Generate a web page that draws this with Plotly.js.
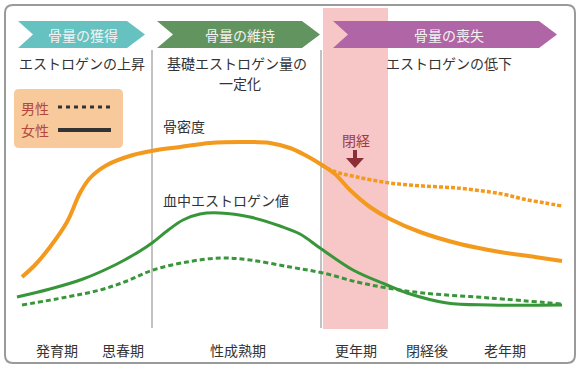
<!DOCTYPE html>
<html>
<head>
<meta charset="utf-8">
<script src="https://cdn.plot.ly/plotly-3.0.1.min.js"></script>
<style>
  html, body { margin: 0; padding: 0; background: #fff; }
  #chart { width: 580px; height: 370px; }
</style>
</head>
<body>
<div id="chart"></div>
<script>
// ---- data (conceptual curves; x = life stage position, y = level, screen-like scale) ----
const womenBoneX = [22, 35, 50, 67, 80, 90, 107, 133, 157, 180, 210, 240, 270, 290, 305, 322, 335, 350, 370, 390, 420, 460, 500, 535, 562];
const womenBoneY = [277, 265, 247, 222, 193, 178, 165, 155, 150, 147, 143, 142, 143, 148, 155, 165, 174, 190, 207, 219, 232, 244, 252, 257, 261];
const menBoneX = [322, 333, 357, 390, 423, 457, 490, 507, 523, 545, 562];
const menBoneY = [165, 171, 177, 183, 186, 188, 192, 195, 199, 203, 206];
const womenEstX = [17, 50, 83, 117, 140, 152, 167, 183, 200, 220, 250, 280, 300, 320, 353, 387, 407, 447, 490, 562];
const womenEstY = [297, 289, 279, 264, 251, 243, 231, 220, 214, 213, 217, 226, 234, 248, 270, 285, 293, 303, 305, 305];
const menEstX = [22, 67, 100, 127, 153, 187, 220, 250, 290, 323, 357, 387, 423, 490, 562];
const menEstY = [305, 297, 290, 281, 270, 262, 258, 260, 267, 273, 282, 288, 293, 298, 304];

const phaseLabels = ['骨量の獲得', '骨量の維持', '骨量の喪失'];
const phaseNotes = ['エストロゲンの上昇', '基礎エストロゲン量の', 'エストロゲンの低下'];
const phaseNoteExtra = '一定化';
const stageLabels = ['発育期', '思春期', '性成熟期', '更年期', '閉経後', '老年期'];
const legendLabels = ['男性', '女性'];
const curveLabels = ['骨密度', '血中エストロゲン値'];
const menopauseLabel = '閉経';

// ---- styles ----
const ORANGE = '#F39A1E';
const GREEN = '#38963A';
const FONT = '"Noto Sans CJK JP", "Noto Sans", sans-serif';
const TXT = '#333333';
const FS = 14;

const traces = [
  { x: womenBoneX, y: womenBoneY, mode: 'lines', line: { color: ORANGE, width: 4, shape: 'spline', smoothing: 1 } },
  { x: menBoneX, y: menBoneY, mode: 'lines', line: { color: ORANGE, width: 3.5, shape: 'spline', smoothing: 1, dash: '4px,2px' } },
  { x: womenEstX, y: womenEstY, mode: 'lines', line: { color: GREEN, width: 3, shape: 'spline', smoothing: 1 } },
  { x: menEstX, y: menEstY, mode: 'lines', line: { color: GREEN, width: 3, shape: 'spline', smoothing: 1, dash: '5px,3px' } }
].map(t => Object.assign(t, { hoverinfo: 'skip', showlegend: false }));

const shapes = [
  // outer rounded frame
  { type: 'path', path: 'M13,5 L567,5 Q575,5 575,13 L575,355 Q575,363 567,363 L13,363 Q5,363 5,355 L5,13 Q5,5 13,5 Z',
    line: { color: '#9a9a9a', width: 2 }, fillcolor: 'rgba(0,0,0,0)', layer: 'below' },
  // menopause band
  { type: 'rect', x0: 323, x1: 388, y0: 8, y1: 329, fillcolor: '#F7C6C7', line: { width: 0 }, layer: 'below' },
  // separators
  { type: 'line', x0: 152, x1: 152, y0: 50, y1: 328, line: { color: '#999', width: 1.2 }, layer: 'below' },
  { type: 'line', x0: 321, x1: 321, y0: 50, y1: 328, line: { color: '#999', width: 1.2 }, layer: 'below' },
  // chevrons
  { type: 'path', path: 'M18,21 L127,21 L145,34.5 L127,48 L18,48 L33,34.5 Z', fillcolor: '#66C2C1', line: { width: 0 } },
  { type: 'path', path: 'M157,21 L302,21 L320,34.5 L302,48 L157,48 L173,34.5 Z', fillcolor: '#62945F', line: { width: 0 } },
  { type: 'path', path: 'M333,21 L539,21 L557,34.5 L539,48 L333,48 L348,34.5 Z', fillcolor: '#B066A6', line: { width: 0 } },
  // legend box
  { type: 'path', path: 'M19,89 L118,89 Q123,89 123,94 L123,143 Q123,148 118,148 L19,148 Q14,148 14,143 L14,94 Q14,89 19,89 Z',
    fillcolor: '#F8C99B', line: { width: 0 } },
  { type: 'line', x0: 58, x1: 111, y0: 107, y1: 107, line: { color: '#333', width: 3, dash: '4px,4px' } },
  { type: 'line', x0: 58, x1: 111, y0: 130, y1: 130, line: { color: '#333', width: 4 } },
  // menopause arrow
  { type: 'rect', x0: 353, x1: 357, y0: 150, y1: 160, fillcolor: '#8B2E35', line: { width: 0 } },
  { type: 'path', path: 'M346,158 L364,158 L355,168 Z', fillcolor: '#8B2E35', line: { width: 0 } }
];

function ann(text, x, y, opts) {
  return Object.assign({ text: text, x: x, y: y, xref: 'x', yref: 'y', showarrow: false,
    xanchor: 'center', yanchor: 'middle', font: { family: FONT, size: FS, color: TXT } }, opts || {});
}

const phaseX = [83, 240, 449];
const noteX = [82, 237, 449];
const stageX = [57, 123, 238, 356, 427, 505];

const annotations = [];
phaseLabels.forEach((t, i) => annotations.push(ann(t, phaseX[i], 34.5, { font: { family: FONT, size: FS, color: '#F2F2F2' } })));
phaseNotes.forEach((t, i) => annotations.push(ann(t, noteX[i], 63)));
annotations.push(ann(phaseNoteExtra, 240, 83));
stageLabels.forEach((t, i) => annotations.push(ann(t, stageX[i], 350)));
annotations.push(ann(legendLabels[0], 35, 108, { font: { family: FONT, size: FS, color: '#B4473C' } }));
annotations.push(ann(legendLabels[1], 35, 130, { font: { family: FONT, size: FS, color: '#B4473C' } }));
annotations.push(ann(curveLabels[0], 161, 126, { xanchor: 'left' }));
annotations.push(ann(curveLabels[1], 161, 200, { xanchor: 'left' }));
annotations.push(ann(menopauseLabel, 356, 140, { font: { family: FONT, size: FS, color: '#9E3A40' } }));

const layout = {
  width: 580, height: 370,
  margin: { l: 0, r: 0, t: 0, b: 0, pad: 0 },
  paper_bgcolor: '#ffffff', plot_bgcolor: '#ffffff',
  xaxis: { range: [0, 580], visible: false, fixedrange: true },
  yaxis: { range: [370, 0], visible: false, fixedrange: true },
  shapes: shapes,
  annotations: annotations,
  showlegend: false
};

Plotly.newPlot('chart', traces, layout, { staticPlot: true, displayModeBar: false });
</script>
</body>
</html>
